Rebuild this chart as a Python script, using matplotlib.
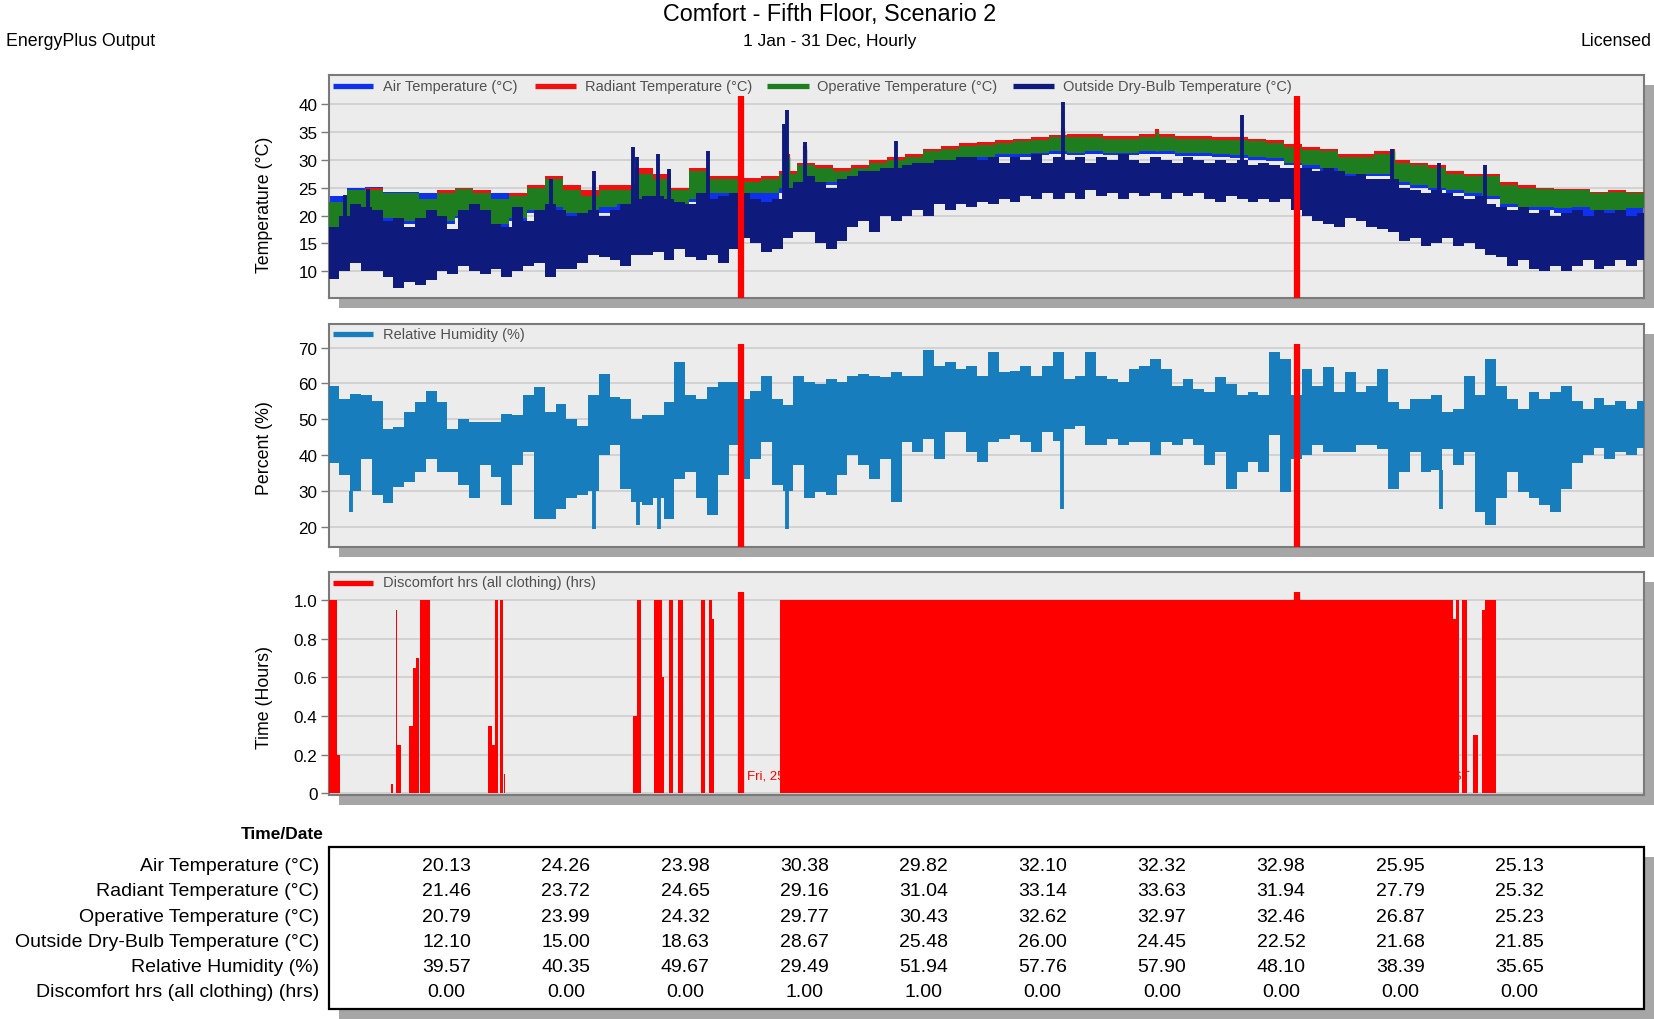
import numpy as np
import matplotlib
matplotlib.use("Agg")
import matplotlib.pyplot as plt
from matplotlib.patches import Rectangle
from matplotlib.lines import Line2D

plt.rcParams['font.family'] = ['Liberation Sans', 'DejaVu Sans']

# ---------------- data ----------------
# Outside dry-bulb daily envelope, 3-day bins starting at day 0
odb_lo = [8.7, 10, 11.5, 10, 10, 9, 7, 8, 7.5, 8.5,
          10, 9.5, 11, 10, 9.5, 10.5, 9, 10, 11, 11.5,
          9, 10.5, 10.5, 11.5, 13, 12.5, 12, 11, 13, 13,
          13.5, 12, 14, 12.5, 12, 13, 11.5, 14, 16, 15,
          13.5, 14, 16, 17, 17, 15, 14, 15.5, 18, 19,
          17, 20, 19, 20, 21, 20, 22, 21, 22, 21.5,
          22.5, 22, 23, 22.5, 23.5, 23, 24, 23, 24, 23,
          24.5, 23.5, 24, 23, 24, 23.5, 24, 23, 24, 23.5,
          24, 23, 22.5, 23.5, 23, 22.5, 23, 22.5, 23, 21,
          20, 19, 18.5, 18, 19.5, 19, 18, 17.5, 17, 15.5,
          16, 14.5, 15, 16, 14.5, 15, 14, 13, 12.5, 11,
          12, 10.5, 10, 11, 10, 11, 12, 10.5, 11, 12, 11, 12]
odb_hi = [18, 20, 22, 21.5, 21, 19, 19.5, 18, 19.5, 21,
          20, 17.5, 21, 22, 21, 18.5, 18, 21.5, 19, 21,
          22, 21, 20, 20.5, 21, 20, 21, 22, 23, 23.5,
          23.5, 23, 22.5, 22, 24, 23, 23.5, 24, 24, 23,
          22.5, 23, 25, 26, 27, 26, 25, 26.5, 27, 28,
          28, 28.5, 28.5, 29, 29.5, 29.5, 30, 30, 30.5, 30.5,
          30, 30.5, 29.5, 30.5, 30, 31, 29.5, 30.5, 30, 30.5,
          29.5, 30.5, 30, 31, 30, 29.5, 30.5, 30, 29.5, 30.5,
          30, 29.5, 30, 29.5, 30, 29, 29.5, 29, 28.5, 28.5,
          28.5, 28, 28.5, 28, 27, 27.5, 26.5, 26.5, 26.5, 25,
          24.5, 24, 24.5, 24, 23.5, 23, 23.5, 22, 21.5, 21,
          21.5, 20.5, 21, 20, 20.5, 21, 20, 21, 20.5, 21, 20, 20.5]
odb_spike_day = [4.5, 11, 61.7, 73.6, 84.5, 85.5, 91.4, 94.4, 105.3, 126.3,
                 127.3, 132.2, 157.4, 203.7, 253.4, 295.0, 308.0, 320.9]
odb_spike_val = [23.6, 24.8, 26.5, 28.0, 32.2, 30.5, 31.0, 28.3, 31.6, 36.5,
                 39.0, 33.1, 33.4, 40.3, 38.0, 32.0, 29.5, 29.0]

# Zone temperatures, 5-day bins starting at day 0
op_lo = [17.5, 19.8, 20.5, 19.5, 19, 17.8, 19, 20, 20.5, 18.5,
         19.5, 21, 21.5, 20.5, 20.5, 21.5, 22, 22.5, 23, 21,
         23, 24, 24, 24, 24, 25, 26, 26, 26, 26.5,
         27.5, 28, 29, 29.5, 30, 30.5, 30.5, 31, 31, 31.3,
         31.5, 31.3, 31.5, 31.3, 31.3, 31.5, 31.5, 31.2, 31.2, 31,
         30.8, 30.5, 30.3, 29.5, 29, 28.5, 27.5, 27.5, 27.5, 26,
         25.5, 25, 24.5, 24, 23.5, 22, 21.5, 21.5, 21.3, 21.5,
         21, 21, 21.3]
op_hi = [22.5, 24.5, 24.5, 24, 24, 23, 24, 24.8, 24, 23,
         23.5, 25, 26.5, 24.5, 23.5, 24.5, 24.5, 27.5, 26.5, 24.5,
         28, 26.5, 26.5, 26, 26.5, 27.5, 29, 28.5, 28, 28.5,
         29.5, 30, 30.5, 31.5, 32, 32.5, 32.7, 33, 33.3, 33.5,
         34, 34, 34, 33.7, 33.7, 34, 34, 33.7, 33.7, 33.5,
         33.5, 33.3, 33, 32.3, 31.8, 31.5, 30.5, 30.5, 31, 29.5,
         29, 28.5, 27.5, 27, 27, 25.5, 25, 24.7, 24.5, 24.5,
         24, 24.2, 24]
air_lo = [17, 19.3, 20, 19, 18.5, 17.3, 18.5, 19.5, 20, 18,
          19, 20.5, 21, 20, 20, 20.5, 21, 21.5, 22, 20.5,
          22.5, 23, 23, 22.5, 22.5, 24, 25, 25.5, 25.5, 26,
          27, 27.5, 28.5, 29, 29.5, 30, 30, 30.5, 30.5, 30.8,
          31, 30.8, 31, 30.8, 30.8, 31, 31, 30.7, 30.7, 30.5,
          30.3, 30, 29.8, 29, 28.3, 28, 27, 27, 27, 25.5,
          25, 24.5, 24, 23.5, 23, 21.5, 21, 21, 20.5, 20,
          19.8, 19.5, 19.5]
air_hi = [23.5, 25, 25.2, 24.3, 24.2, 24, 24.2, 24.3, 24.2, 24,
          24, 24.5, 25.5, 24.5, 24, 24.2, 24.5, 26, 25.5, 24.5,
          27, 25.5, 25, 25, 25.5, 27, 28, 28, 27.5, 28,
          29, 29.5, 30, 31, 31.5, 32, 32, 32.3, 32.5, 32.5,
          33, 33, 33, 32.8, 32.8, 33, 33.5, 32.8, 32.8, 32.5,
          32.5, 32.3, 32, 31.5, 31, 30.8, 30, 30, 30.5, 29,
          28.5, 28, 27, 26.5, 26.5, 25, 24.5, 24.3, 24.2, 24.2,
          24, 24, 24]
rad_hi = [22, 24.5, 25, 24, 23.8, 23, 24.5, 25, 24.5, 23,
          24, 25.5, 27, 25.5, 24.5, 25.5, 25.5, 28.5, 27.5, 25,
          28.5, 27, 27, 26.8, 27, 28, 29.5, 29, 28.5, 29,
          30, 30.5, 31, 32, 32.5, 33, 33.2, 33.5, 33.8, 34,
          34.5, 34.6, 34.6, 34.3, 34.3, 34.6, 34.6, 34.2, 34.2, 34,
          34, 33.8, 33.5, 32.8, 32.3, 32, 31, 31, 31.5, 30,
          29.5, 29, 28, 27.5, 27.5, 26, 25.5, 25, 24.8, 24.8,
          24.3, 24.5, 24.3]
op_spike_day = [127.5, 132.3, 203.8, 229.8, 295.3]
op_spike_val = [30.5, 32.0, 35.2, 35.0, 31.5]
rad_spike_val = [31.0, 32.5, 35.7, 35.5, 32.0]

# Relative humidity envelope, 3-day bins starting at day 0
rh_hi = [59.3, 55.7, 57, 56.7, 55, 47.4, 47.9, 52, 54.8, 58,
         54.8, 47.4, 50.2, 49.3, 49.3, 49.3, 51.6, 51.1, 56.7, 59,
         52, 54.4, 50.2, 48.3, 56.7, 62.7, 56.2, 55.7, 50.2, 51.1,
         51.1, 54.8, 65.9, 56.7, 55.7, 59, 60.4, 60.4, 55.7, 58,
         62.2, 55.7, 53.9, 62.2, 60.4, 59.9, 61.3, 60.4, 62.2, 62.7,
         62.2, 61.8, 63.1, 62.2, 62.2, 69.2, 65, 65.9, 64.1, 65,
         62.2, 68.7, 63.1, 63.6, 65, 62.2, 65, 68.7, 61.3, 62.2,
         68.7, 62.2, 61.3, 60.4, 64.1, 65, 66.9, 64.1, 59.4, 61.3,
         58.5, 57.6, 61.8, 59.9, 56.7, 57.6, 56.7, 68.7, 66.9, 56.7,
         64.1, 59.4, 64.5, 57.6, 63.1, 57.6, 59.4, 64.1, 54.8, 53,
         55.7, 55.7, 56.7, 52, 53, 62.2, 56.7, 66.9, 59.4, 55.7,
         53, 57.6, 55.7, 57.6, 59.4, 55, 53, 56, 54, 55, 53, 55]
rh_lo = [38, 34.4, 30, 39, 28.9, 26.6, 31.2, 32.6, 35.4, 39,
         35.4, 35.4, 31.7, 28, 37.2, 34, 26.1, 37.2, 40.9, 22.4,
         22.4, 25.2, 28, 28.9, 30, 40, 42.8, 30.7, 27, 26.1,
         28, 22.4, 33.5, 35.4, 28, 23.3, 34.4, 42.8, 33.5, 39,
         43.7, 31.7, 30, 37.2, 28, 29.8, 28.9, 34.4, 40, 37.2,
         33.5, 39, 27, 43.7, 40.9, 44.6, 39, 46.5, 46.5, 40.9,
         38.1, 43.7, 44.6, 45.6, 43.7, 40.9, 46.5, 44, 47.4, 48.3,
         42.8, 42.8, 44.6, 42.8, 43.7, 43.7, 40, 43.7, 42.8, 44.6,
         42.8, 37.2, 40.9, 30.7, 35.4, 38.1, 35.4, 45.6, 29.8, 39,
         40, 42.8, 40.9, 40.9, 40.9, 42.8, 42.8, 41.9, 30.7, 35.4,
         40.9, 35.4, 36, 41.9, 37.2, 40.9, 24.3, 20.6, 28, 35.4,
         29.8, 28, 26.1, 24.3, 30.7, 38, 40, 42, 39, 41, 40, 42]
rh_dip_day = [6.3, 73.8, 86.0, 91.6, 127.3, 203.6, 308.6]
rh_dip_val = [24.3, 19.6, 20.6, 19.6, 19.6, 25.2, 25.2]

# Discomfort hours: bars (start day, end day, value)
dis_start = [0, 2.4, 17.4, 18.6, 19.1, 22.4, 23.4, 24.2, 25.5, 44.3, 45.3, 46.2, 47.5, 48.6,
             84.5, 85.5, 90.4, 92.4, 94.4, 97.0, 103.3, 105.5, 106.3,
             125.2, 312.1, 312.9, 314.4, 317.6, 320.0, 320.9]
dis_end = [2.4, 3.2, 17.9, 19.1, 20.2, 23.4, 24.2, 25.0, 28.3, 45.3, 46.2, 47.0, 48.4, 49.0,
           85.5, 86.6, 92.4, 93.2, 95.6, 98.3, 104.5, 106.3, 106.9,
           312.1, 312.9, 313.7, 315.8, 319.0, 320.9, 323.9]
dis_val = [1.0, 0.2, 0.05, 0.95, 0.25, 0.35, 0.65, 0.70, 1.0, 0.35, 0.25, 1.0, 1.0, 0.1,
           0.40, 1.0, 1.0, 0.6, 1.0, 1.0, 1.0, 1.0, 0.9,
           1.0, 0.9, 1.0, 1.0, 0.3, 0.95, 1.0]

marker_days = [114.5, 268.6]
marker_labels = ["Fri, 25 Apr 2003, 12:00 BST", "Fri, 26 Sep 2003, 12:00 BST"]

# Table
row_labels = ["Air Temperature (°C)", "Radiant Temperature (°C)", "Operative Temperature (°C)",
              "Outside Dry-Bulb Temperature (°C)", "Relative Humidity (%)",
              "Discomfort hrs (all clothing) (hrs)"]
air_tab = [20.13, 24.26, 23.98, 30.38, 29.82, 32.10, 32.32, 32.98, 25.95, 25.13]
rad_tab = [21.46, 23.72, 24.65, 29.16, 31.04, 33.14, 33.63, 31.94, 27.79, 25.32]
op_tab = [20.79, 23.99, 24.32, 29.77, 30.43, 32.62, 32.97, 32.46, 26.87, 25.23]
odb_tab = [12.10, 15.00, 18.63, 28.67, 25.48, 26.00, 24.45, 22.52, 21.68, 21.85]
rh_tab = [39.57, 40.35, 49.67, 29.49, 51.94, 57.76, 57.90, 48.10, 38.39, 35.65]
dis_tab = [0.00, 0.00, 0.00, 1.00, 1.00, 0.00, 0.00, 0.00, 0.00, 0.00]

# ---------------- styling ----------------
C_AIR = '#1030f0'
C_RAD = '#f01010'
C_OP = '#1e7d1e'
C_ODB = '#0e1a7c'
C_RH = '#187dbd'
C_DIS = '#ff0000'
BG = '#ececec'
GRID = '#d2d2d2'
SPINE = '#7a7a7a'
SHADOW = '#a6a6a6'

W, H = 1654, 1020
fig = plt.figure(figsize=(W / 100, H / 100), dpi=100)
fig.patch.set_facecolor('white')


def fx(x):
    return x / W


def fy(y):
    return 1 - y / H


LEFT, RIGHT = 328.5, 1644


def make_axes(top, bottom):
    fig.add_artist(Rectangle((fx(LEFT + 10), fy(bottom + 10)), fx(RIGHT - LEFT), (bottom - top) / H,
                             transform=fig.transFigure, facecolor=SHADOW, edgecolor='none', zorder=-5))
    ax = fig.add_axes([fx(LEFT), fy(bottom), fx(RIGHT - LEFT), (bottom - top) / H])
    ax.set_facecolor(BG)
    for s in ax.spines.values():
        s.set_color(SPINE)
        s.set_linewidth(1.5)
    ax.set_xlim(0, 365)
    ax.set_xticks([])
    ax.set_axisbelow(True)
    ax.yaxis.grid(True, color=GRID, lw=1.4)
    ax.tick_params(axis='y', length=6, width=1, color=SPINE, pad=2, labelsize=12.3)
    return ax


def step_fill(ax, x0, step, lo, hi, color, z):
    n = len(lo)
    x = np.append(x0 + step * np.arange(n), 365)
    lo2 = np.append(lo, lo[-1])
    hi2 = np.append(hi, hi[-1])
    ax.fill_between(x, lo2, hi2, step='post', color=color, lw=0, zorder=z)


def legend_row(y, items):
    for x0, x1, col, label, xt in items:
        fig.add_artist(Line2D([fx(x0), fx(x1)], [fy(y), fy(y)], transform=fig.transFigure,
                              color=col, lw=3.8, solid_capstyle='butt', zorder=10))
        fig.text(fx(xt), fy(y), label, fontsize=10.5, color='#505050', ha='left', va='center', zorder=10)


# ---------------- panel 1: temperatures ----------------
ax1 = make_axes(76, 298.5)
ax1.set_ylim(5.3, 45.2)
ax1.set_yticks([10, 15, 20, 25, 30, 35, 40])
step_fill(ax1, 0, 5, air_lo, air_hi, C_AIR, 2)
step_fill(ax1, 0, 5, op_lo, rad_hi, C_RAD, 3)
ax1.vlines(op_spike_day, [op_lo[int(d // 5)] for d in op_spike_day], rad_spike_val, color=C_RAD, lw=3, zorder=3)
step_fill(ax1, 0, 5, op_lo, op_hi, C_OP, 4)
ax1.vlines(op_spike_day, [op_lo[int(d // 5)] for d in op_spike_day], op_spike_val, color=C_OP, lw=2.5, zorder=4)
step_fill(ax1, 0, 3, odb_lo, odb_hi, C_ODB, 5)
ax1.vlines(odb_spike_day, [odb_lo[int(d // 3)] for d in odb_spike_day], odb_spike_val, color=C_ODB, lw=2.8, zorder=5)
ax1.vlines(marker_days, 5.3, 41.5, color=C_DIS, lw=4.5, zorder=8)
ax1.set_ylabel('Temperature (°C)', fontsize=12.8)
ax1.yaxis.set_label_coords(-0.042, 0.42)

# ---------------- panel 2: relative humidity ----------------
ax2 = make_axes(324.5, 547.6)
ax2.set_ylim(14.6, 76.7)
ax2.set_yticks([20, 30, 40, 50, 60, 70])
step_fill(ax2, 0, 3, rh_lo, rh_hi, C_RH, 3)
ax2.vlines(rh_dip_day, rh_dip_val, [rh_lo[int(d // 3)] for d in rh_dip_day], color=C_RH, lw=2.8, zorder=3)
ax2.vlines(marker_days, 14.6, 71, color=C_DIS, lw=4.5, zorder=8)
ax2.set_ylabel('Percent (%)', fontsize=12.8)
ax2.yaxis.set_label_coords(-0.042, 0.446)

# ---------------- panel 3: discomfort ----------------
ax3 = make_axes(573, 796)
ax3.set_ylim(-0.009, 1.145)
ax3.set_yticks([0, 0.2, 0.4, 0.6, 0.8, 1.0])
ax3.set_yticklabels(['0', '0.2', '0.4', '0.6', '0.8', '1.0'])
for d, lab in zip(marker_days, marker_labels):
    ax3.text(d + 1.6, 0.09, lab, color=C_DIS, fontsize=9.5, ha='left', va='center', zorder=1.5)
ax3.bar(dis_start, dis_val, width=np.array(dis_end) - np.array(dis_start), align='edge',
        color=C_DIS, lw=0, zorder=3)
ax3.vlines(marker_days, 0, 1.04, color=C_DIS, lw=4.5, zorder=4)
ax3.set_ylabel('Time (Hours)', fontsize=12.8)
ax3.yaxis.set_label_coords(-0.042, 0.44)

# legends
legend_row(86.7, [(333, 373, C_AIR, 'Air Temperature (°C)', 383),
                  (535, 576, C_RAD, 'Radiant Temperature (°C)', 585),
                  (767, 809, C_OP, 'Operative Temperature (°C)', 817),
                  (1013, 1054, C_ODB, 'Outside Dry-Bulb Temperature (°C)', 1063)])
legend_row(335, [(333, 373, C_RH, 'Relative Humidity (%)', 383)])
legend_row(583.5, [(333, 373, C_DIS, 'Discomfort hrs (all clothing) (hrs)', 383)])

# ---------------- header ----------------
fig.text(fx(830), fy(15), 'Comfort - Fifth Floor, Scenario 2', fontsize=16.8, ha='center', va='center')
fig.text(fx(830), fy(41.5), '1 Jan - 31 Dec, Hourly', fontsize=12.5, ha='center', va='center')
fig.text(fx(6), fy(41.5), 'EnergyPlus Output', fontsize=12.8, ha='left', va='center')
fig.text(fx(1651), fy(41.5), 'Licensed', fontsize=12.8, ha='right', va='center')

# ---------------- table ----------------
T_TOP, T_BOT = 848, 1009.5
fig.add_artist(Rectangle((fx(LEFT + 10), fy(T_BOT + 10)), fx(RIGHT - LEFT), (T_BOT - T_TOP) / H,
                         transform=fig.transFigure, facecolor=SHADOW, edgecolor='none', zorder=-5))
fig.add_artist(Rectangle((fx(LEFT), fy(T_BOT)), fx(RIGHT - LEFT), (T_BOT - T_TOP) / H,
                         transform=fig.transFigure, facecolor='white', edgecolor='black', lw=1.6, zorder=-4))
fig.text(fx(324), fy(834.5), 'Time/Date', fontsize=12.5, fontweight='bold', ha='right', va='center')
rows = [air_tab, rad_tab, op_tab, odb_tab, rh_tab, dis_tab]
for k, (lab, vals) in enumerate(zip(row_labels, rows)):
    y = 866.7 + 25.2 * k
    fig.text(fx(319), fy(y), lab, fontsize=14, ha='right', va='center')
    for j, v in enumerate(vals):
        fig.text(fx(446.6 + 119.2 * j), fy(y), f'{v:.2f}', fontsize=14, ha='center', va='center')

fig.savefig('out.png', dpi=100)
